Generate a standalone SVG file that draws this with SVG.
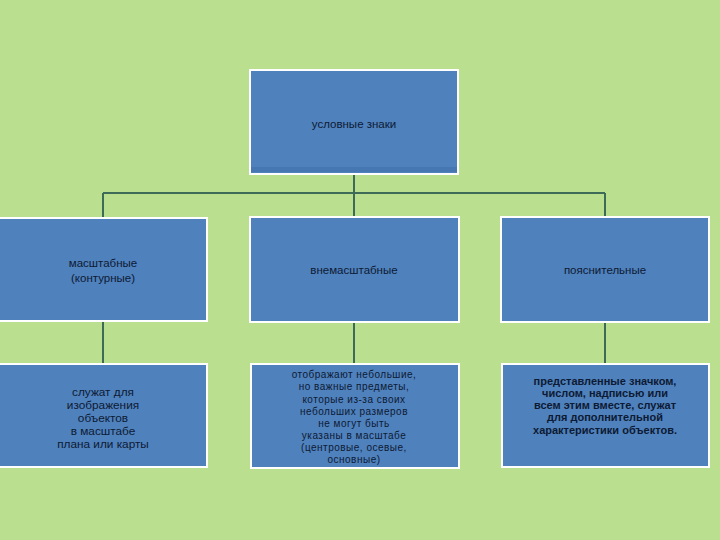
<svg xmlns="http://www.w3.org/2000/svg" width="720" height="540" viewBox="0 0 720 540">
<style>
.box{fill:#4f81bd;stroke:#ffffff;stroke-width:2}
.t{font-family:"Liberation Sans",Arial,sans-serif;font-size:11.5px;fill:#0d1a33;text-anchor:middle}
.l{font-size:11.8px}
.s{font-size:10px;letter-spacing:0.5px}
.b{font-weight:bold;font-size:11px}
.c{fill:none;stroke:#3d6b58;stroke-width:2}
</style>
<rect width="720" height="540" fill="#badf8f"/>
<g id="connectors">
<path class="c" d="M354 175V193M103 193H605M103 193V218M354 193V218M605 193V218"/>
<path class="c" d="M103 322V364M354 322V364M605 322V364"/>
</g>
<g id="top">
<rect class="box" x="250" y="70" width="208" height="104"/>
<rect x="251" y="167" width="206" height="5" fill="#4677b3"/>
<text class="t" x="354" y="128">условные знаки</text>
</g>
<g id="n1">
<rect class="box" x="-2" y="218" width="209" height="103"/>
<text class="t" x="103" y="267">масштабные</text>
<text class="t" x="103" y="282">(контурные)</text>
</g>
<g id="n2">
<rect class="box" x="250" y="217" width="209" height="105"/>
<text class="t" x="354" y="274">внемасштабные</text>
</g>
<g id="n3">
<rect class="box" x="501" y="217" width="208" height="105"/>
<text class="t" x="605" y="274">пояснительные</text>
</g>
<g id="d1">
<rect class="box" x="-2" y="364" width="209" height="103"/>
<text class="t l" x="103" y="396">служат для</text>
<text class="t l" x="103" y="409">изображения</text>
<text class="t l" x="103" y="422">объектов</text>
<text class="t l" x="103" y="435">в масштабе</text>
<text class="t l" x="103" y="448">плана или карты</text>
</g>
<g id="d2">
<rect class="box" x="251" y="364" width="208" height="104"/>
<text class="t s" x="354" y="378">отображают небольшие,</text>
<text class="t s" x="354" y="390">но важные предметы,</text>
<text class="t s" x="354" y="403">которые из-за своих</text>
<text class="t s" x="354" y="415">небольших размеров</text>
<text class="t s" x="354" y="427">не могут быть</text>
<text class="t s" x="354" y="439">указаны в масштабе</text>
<text class="t s" x="354" y="451">(центровые, осевые,</text>
<text class="t s" x="354" y="463">основные)</text>
</g>
<g id="d3">
<rect class="box" x="502" y="364" width="207" height="103"/>
<text class="t b" x="605" y="385">представленные значком,</text>
<text class="t b" x="605" y="397">числом, надписью или</text>
<text class="t b" x="605" y="409">всем этим вместе, служат</text>
<text class="t b" x="605" y="421">для дополнительной</text>
<text class="t b" x="605" y="434">характеристики объектов.</text>
</g>
</svg>
